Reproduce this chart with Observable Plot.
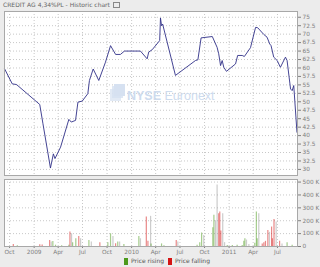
<!DOCTYPE html>
<html><head><meta charset="utf-8">
<script src="https://cdn.jsdelivr.net/npm/d3@7"></script>
<script src="https://cdn.jsdelivr.net/npm/@observablehq/plot@0.6"></script>
<style>
html,body{margin:0;padding:0;}
body{background:#ececec;width:320px;height:267px;overflow:hidden;position:relative;font-family:"DejaVu Sans",sans-serif;}
#title{position:absolute;left:3px;top:1px;font-size:6px;color:#666;white-space:nowrap;}
#title .ico{display:inline-block;width:5px;height:4px;border:1px solid #888;margin-left:3px;vertical-align:middle;}
#price{position:absolute;left:0;top:0;}
#vol{position:absolute;left:0;top:175px;}
#wm{position:absolute;left:110px;top:84px;color:#cddbee;font-family:"Liberation Sans",sans-serif;font-size:12.5px;white-space:nowrap;}
#wm .logo{position:absolute;left:0;top:0;width:15px;height:17px;}
#wm .logo div{position:absolute;background:#d6e1f1;}
#wm .txt{position:absolute;left:17px;top:5px;}
#legend{position:absolute;left:124px;top:257px;font-size:6px;color:#555;white-space:nowrap;}
#legend span.sw{display:inline-block;width:4px;height:7px;vertical-align:middle;margin-right:3px;}
</style>
</head><body>
<div id="title">CREDIT AG 4,34%PL - Historic chart<span class="ico"></span></div>
<div id="price"></div>
<div id="vol"></div>
<div id="wm"><div class="logo"><div style="left:4px;top:0;width:11px;height:12px;"></div><div style="left:2px;top:2px;width:11px;height:12px;opacity:.8"></div><div style="left:0;top:5px;width:11px;height:12px;opacity:.7"></div></div><div class="txt"><b>NYSE</b> Euronext</div></div>
<div id="legend"><span class="sw" style="background:#4c9a1c"></span>Price rising <span class="sw" style="background:#d41414;margin-left:2px"></span>Price falling</div>
<script>
const priceDates = ["2008-09-12","2008-10-11","2008-10-27","2009-01-22","2009-02-03","2009-03-03","2009-03-14","2009-03-20","2009-04-10","2009-05-11","2009-05-20","2009-06-05","2009-06-14","2009-06-30","2009-07-21","2009-07-27","2009-08-10","2009-08-31","2009-09-25","2009-10-14","2009-11-02","2009-11-20","2009-12-05","2010-02-03","2010-02-28","2010-03-06","2010-03-19","2010-04-16","2010-04-19","2010-04-23","2010-04-27","2010-06-14","2010-08-28","2010-09-06","2010-09-18","2010-10-30","2010-11-17","2010-11-23","2010-11-30","2010-12-06","2010-12-12","2010-12-22","2011-01-25","2011-02-02","2011-02-19","2011-02-27","2011-03-22","2011-04-10","2011-04-18","2011-05-11","2011-05-23","2011-06-02","2011-06-07","2011-06-17","2011-06-30","2011-07-12","2011-07-31","2011-08-06","2011-08-19","2011-08-25","2011-08-31","2011-09-12"];
const priceValues = [59.8,55.3,55.1,49.2,43.5,30.4,34.6,33.2,36.6,44.8,44.0,44.5,49.9,50.2,52.4,56.3,59.7,56.3,61.7,66.6,64.0,64.0,65.0,65.0,62.7,64.7,65.4,68.1,74.8,72.5,73.0,57.8,62.2,62.4,68.9,69.3,66.1,64.2,60.7,62.2,60.2,59.0,61.2,63.7,63.7,63.4,66.0,72.0,71.9,69.9,69.1,67.1,66.6,63.2,62.2,60.2,63.2,62.2,53.8,53.3,54.8,41.0];

const volDates = ["2008-10-15","2008-10-30","2009-01-22","2009-01-31","2009-02-28","2009-03-06","2009-03-12","2009-03-22","2009-04-14","2009-05-11","2009-05-15","2009-05-21","2009-05-25","2009-06-06","2009-06-17","2009-06-24","2009-07-25","2009-08-03","2009-09-04","2009-10-04","2009-10-14","2009-10-23","2009-11-02","2009-11-10","2009-11-17","2009-12-03","2010-01-28","2010-02-03","2010-02-25","2010-03-03","2010-03-13","2010-03-15","2010-04-23","2010-05-02","2010-06-17","2010-06-23","2010-09-03","2010-09-13","2010-09-20","2010-09-28","2010-11-01","2010-11-05","2010-11-11","2010-11-17","2010-11-23","2010-11-27","2010-12-01","2010-12-08","2010-12-15","2010-12-25","2011-01-13","2011-01-31","2011-02-19","2011-02-25","2011-03-01","2011-03-07","2011-03-16","2011-04-07","2011-04-13","2011-04-16","2011-04-22","2011-05-05","2011-05-11","2011-05-17","2011-05-26","2011-06-01","2011-06-09","2011-06-12","2011-06-18","2011-06-26","2011-07-09","2011-07-18","2011-08-06","2011-08-25"];
const volValues = [16000,6000,13000,12000,47000,34000,39000,10000,6000,10000,112000,99000,30000,60000,78000,60000,47000,34000,29000,29000,99000,78000,21000,34000,34000,16000,78000,60000,229000,40000,234000,20000,20000,6000,47000,34000,10000,30000,104000,86000,146000,242000,200000,477000,255000,268000,120000,255000,30000,8000,8000,10000,8000,40000,60000,50000,15000,25000,268000,60000,255000,20000,30000,40000,125000,110000,151000,60000,210000,190000,40000,20000,30000,10000];
const volKinds = ["down","up","down","down","down","ref","up","up","up","up","down","ref","up","up","down","ref","up","ref","down","up","up","ref","down","up","ref","up","up","ref","down","down","ref","up","up","up","down","ref","up","up","up","ref","up","up","ref","ref","down","down","down","ref","ref","up","up","up","up","up","up","ref","ref","up","up","up","ref","down","down","down","down","ref","down","down","down","ref","down","ref","up","up"];

const xTickDates = ["2008-10-01","2009-01-01","2009-04-01","2009-07-01","2009-10-01","2010-01-01","2010-04-01","2010-07-01","2010-10-01","2011-01-01","2011-04-01","2011-07-01"];
const xTickLabels = ["Oct","2009","Apr","Jul","Oct","2010","Apr","Jul","Oct","2011","Apr","Jul"];
const priceTicks = [30,32.5,35,37.5,40,42.5,45,47.5,50,52.5,55,57.5,60,62.5,65,67.5,70,72.5,75];
const volTicks = [0,100000,200000,300000,400000,500000];

const xDomain = [new Date("2008-09-12"), new Date("2011-09-14")];
const xTicks = xTickDates.map(d => new Date(d));
const price = priceDates.map((d,i) => ({date:new Date(d), value:priceValues[i]}));
const vol = volDates.map((d,i) => ({date:new Date(d), value:volValues[i], kind:volKinds[i]}));
const labelOf = d => xTickLabels[xTicks.findIndex(t => +t === +d)] ?? "";
const kindColor = {up:"#4c9a1c", down:"#d41414", ref:"#9a9a9a"};

const axStyle = {fontSize:"5.8px", color:"#808080", fontFamily:"DejaVu Sans, sans-serif", background:"transparent", overflow:"visible"};

const pricePlot = Plot.plot({
  width:320, height:180, marginTop:11, marginBottom:5, marginLeft:4, marginRight:23,
  style:axStyle,
  x:{type:"utc", domain:xDomain, axis:null},
  y:{domain:[28.2,76.7], axis:"right", ticks:priceTicks, tickSize:3, tickPadding:2, tickFormat:d=>String(d), label:null},
  marks:[
    Plot.frame({fill:"white", stroke:"none"}),
    Plot.ruleY(priceTicks, {stroke:"#c8c8c8", strokeDasharray:"1,2"}),
    Plot.ruleX(xTicks, {stroke:"#c8c8c8", strokeDasharray:"1,2"}),
    Plot.line(price, {x:"date", y:"value", stroke:"#303088", strokeWidth:0.9}),
    Plot.frame({stroke:"#a8a8a8"})
  ]
});
document.getElementById("price").appendChild(pricePlot);

const volPlot = Plot.plot({
  width:320, height:92, marginTop:4, marginBottom:21, marginLeft:4, marginRight:23,
  style:axStyle,
  x:{type:"utc", domain:xDomain, ticks:xTicks, tickFormat:labelOf, tickSize:2, tickPadding:1, label:null},
  y:{domain:[0,520000], axis:"right", ticks:volTicks, tickSize:3, tickPadding:2, tickFormat:d=>d===0?"0":(d/1000)+" K", label:null},
  marks:[
    Plot.frame({fill:"white", stroke:"none"}),
    Plot.ruleY(volTicks.slice(1), {stroke:"#c8c8c8", strokeDasharray:"1,2"}),
    Plot.ruleX(xTicks, {stroke:"#c8c8c8", strokeDasharray:"1,2"}),
    Plot.ruleX(vol, {x:"date", y1:0, y2:"value", stroke:d=>kindColor[d.kind], strokeOpacity:0.5, strokeWidth:1.2}),
    Plot.frame({stroke:"#a8a8a8"})
  ]
});
document.getElementById("vol").appendChild(volPlot);
</script>
</body></html>
